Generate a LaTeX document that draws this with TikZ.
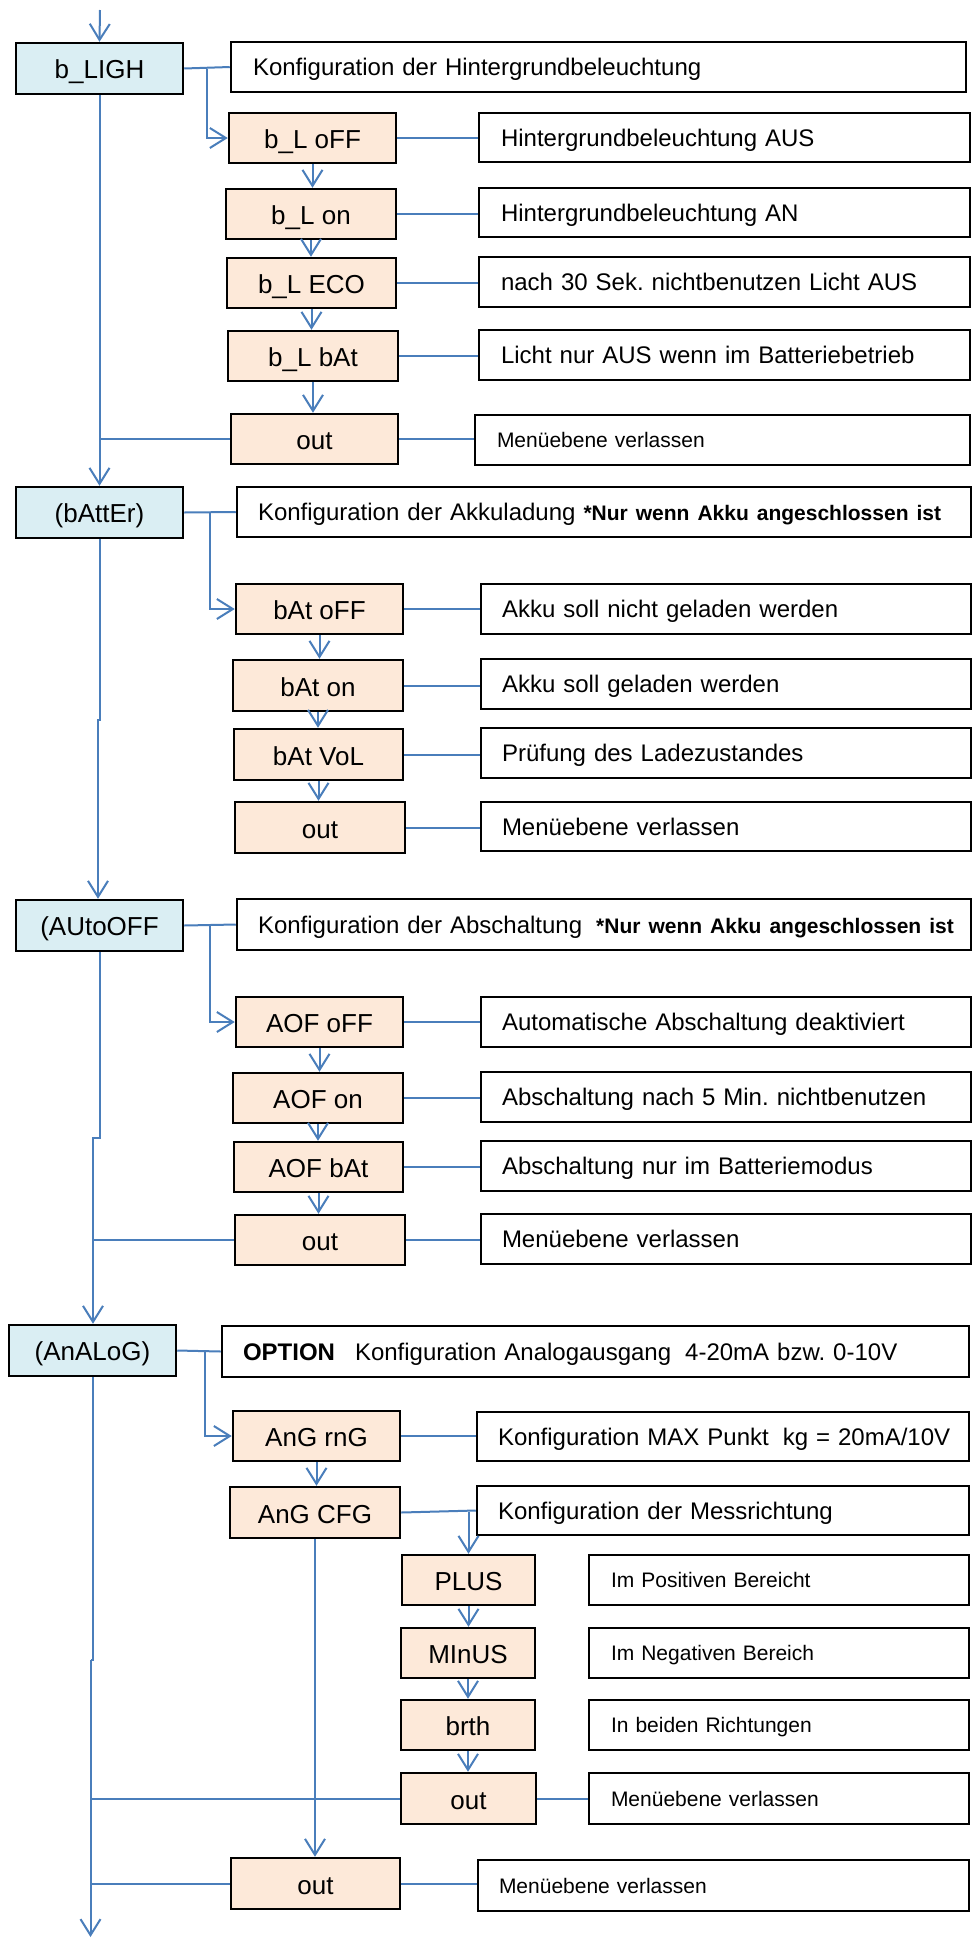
\documentclass[tikz,border=0pt]{standalone}
\usepackage{fontspec}
\setmainfont{Liberation Sans}
\usetikzlibrary{arrows.meta}
\definecolor{lblue}{RGB}{74,126,187}
\definecolor{mainfill}{RGB}{218,238,243}
\definecolor{subfill}{RGB}{253,233,217}
\newcommand\myfbig{\fontsize{26}{30}\selectfont}
\newcommand\myfmid{\fontsize{24}{28}\selectfont}
\newcommand\myfsmall{\fontsize{21}{25}\selectfont}
\newcommand\myfbold{\fontsize{21}{25}\selectfont\bfseries}
\newcommand\mkbox[7]{%
  \pgfmathsetmacro\dw{#5-#3}\pgfmathsetmacro\dh{#6-#4}%
  \node[#2, minimum width=\dw pt, minimum height=\dh pt] (#1) at ({(#3+#5)/2},{(#4+#6)/2}) {#7};}
\newcommand\dbox[8]{%
  \pgfmathsetmacro\dw{#5-#3}\pgfmathsetmacro\dh{#6-#4}%
  \pgfmathsetmacro\dsep{#7-#3}\pgfmathsetmacro\dtw{#5-#3-2*(#7-#3)}%
  \node[desc, #2, minimum width=\dw pt, minimum height=\dh pt, inner xsep=\dsep pt, inner ysep=0pt, text width=\dtw pt, align=left] (#1) at ({(#3+#5)/2},{(#4+#6)/2}) {\mbox{#8}};}
\tikzset{
  mainbox/.style={draw=black, line width=2.5pt, fill=mainfill, font=\myfbig, inner sep=0pt, text height=20.6pt, text depth=0pt},
  subbox/.style={draw=black, line width=2.5pt, fill=subfill, font=\myfbig, inner sep=0pt, text height=21.6pt, text depth=0pt},
  desc/.style={draw=black, line width=2.5pt, fill=white, text depth=0pt},
  dmid/.style={font=\myfmid, text height=17.2pt},
  dsmall/.style={font=\myfsmall, text height=15pt},
  conn/.style={draw=lblue, line width=2pt},
  arr/.style={conn, -{Straight Barb[length=16pt,width=20pt]}}
}
\begin{document}
\frenchspacing
\begin{tikzpicture}[x=1pt,y=-1pt]
\useasboundingbox[fill=white] (0,0) rectangle (972,1939);

% ---------- main boxes ----------
\mkbox{ligh}{mainbox}{16}{43}{183}{94}{b\_LIGH}
\mkbox{batt}{mainbox}{16}{487}{183}{538}{(bAttEr)}
\mkbox{auto}{mainbox}{16}{900}{183}{951}{(AUtoOFF}
\mkbox{anal}{mainbox}{9}{1325}{176}{1376}{(AnALoG)}

% ---------- group 1 ----------
\dbox{d0}{dmid}{231}{42}{966}{92}{253}{Konfiguration der Hintergrundbeleuchtung}
\mkbox{bLoff}{subbox}{229}{113}{396}{163}{b\_L oFF}
\mkbox{bLon}{subbox}{226}{189}{396}{239}{b\_L on}
\mkbox{bLeco}{subbox}{227}{258}{396}{308}{b\_L ECO}
\mkbox{bLbat}{subbox}{228}{331}{398}{381}{b\_L bAt}
\mkbox{outA}{subbox}{231}{414}{398}{464}{out}
\dbox{dA1}{dmid}{479}{113}{970}{162}{501}{Hintergrundbeleuchtung AUS}
\dbox{dA2}{dmid}{479}{188}{970}{237}{501}{Hintergrundbeleuchtung AN}
\dbox{dA3}{dmid}{479}{257}{970}{307}{501}{nach 30 Sek. nichtbenutzen Licht AUS}
\dbox{dA4}{dmid}{479}{330}{970}{380}{501}{Licht nur AUS wenn im Batteriebetrieb}
\dbox{dA5}{dsmall}{475}{415}{970}{465}{497}{Menüebene verlassen}

% ---------- group 2 ----------
\dbox{d1}{dmid}{237}{487}{971}{537}{258}{Konfiguration der Akkuladung {\myfbold *Nur wenn Akku angeschlossen ist}}
\mkbox{bAoff}{subbox}{236}{584}{403}{634}{bAt oFF}
\mkbox{bAon}{subbox}{233}{660}{403}{711}{bAt on}
\mkbox{bAvol}{subbox}{234}{729}{403}{780}{bAt VoL}
\mkbox{outB}{subbox}{235}{802}{405}{853}{out}
\dbox{dB1}{dmid}{481}{584}{971}{634}{502}{Akku soll nicht geladen werden}
\dbox{dB2}{dmid}{481}{659}{971}{709}{502}{Akku soll geladen werden}
\dbox{dB3}{dmid}{481}{728}{971}{778}{502}{Prüfung des Ladezustandes}
\dbox{dB4}{dmid}{481}{802}{971}{851}{502}{Menüebene verlassen}

% ---------- group 3 ----------
\dbox{d2}{dmid}{237}{899}{971}{950}{258}{Konfiguration der Abschaltung\hspace{14pt}{\myfbold *Nur wenn Akku angeschlossen ist}}
\mkbox{aoff}{subbox}{236}{997}{403}{1047}{AOF oFF}
\mkbox{aon}{subbox}{233}{1073}{403}{1123}{AOF on}
\mkbox{abat}{subbox}{234}{1142}{403}{1192}{AOF bAt}
\mkbox{outC}{subbox}{235}{1215}{405}{1265}{out}
\dbox{dC1}{dmid}{481}{997}{971}{1047}{502}{Automatische Abschaltung deaktiviert}
\dbox{dC2}{dmid}{481}{1072}{971}{1122}{502}{Abschaltung nach 5 Min. nichtbenutzen}
\dbox{dC3}{dmid}{481}{1141}{971}{1191}{502}{Abschaltung nur im Batteriemodus}
\dbox{dC4}{dmid}{481}{1214}{971}{1264}{502}{Menüebene verlassen}

% ---------- group 4 ----------
\dbox{d3}{dmid}{222}{1326}{969}{1377}{243}{\textbf{OPTION}\hspace{20pt}Konfiguration Analogausgang\hspace{14pt}4-20mA bzw. 0-10V}
\mkbox{rng}{subbox}{233}{1411}{400}{1461}{AnG rnG}
\mkbox{cfg}{subbox}{230}{1487}{400}{1538}{AnG CFG}
\dbox{dD1}{dmid}{477}{1412}{969}{1461}{498}{Konfiguration MAX Punkt\hspace{14pt}kg = 20mA/10V}
\dbox{dD2}{dmid}{477}{1486}{969}{1535}{498}{Konfiguration der Messrichtung}
\mkbox{plus}{subbox}{402}{1555}{535}{1605}{PLUS}
\mkbox{minus}{subbox}{401}{1628}{535}{1678}{MInUS}
\mkbox{brth}{subbox}{401}{1700}{535}{1750}{brth}
\mkbox{outD}{subbox}{401}{1773}{536}{1824}{out}
\dbox{dE1}{dsmall}{589}{1555}{969}{1605}{611}{Im Positiven Bereicht}
\dbox{dE2}{dsmall}{589}{1628}{969}{1678}{611}{Im Negativen Bereich}
\dbox{dE3}{dsmall}{589}{1700}{969}{1750}{611}{In beiden Richtungen}
\dbox{dE4}{dsmall}{589}{1773}{969}{1824}{611}{Menüebene verlassen}
\mkbox{outE}{subbox}{231}{1858}{400}{1909}{out}
\dbox{dE5}{dsmall}{478}{1860}{969}{1911}{499}{Menüebene verlassen}

% ---------- coordinates ----------
\coordinate (top) at (100,10);
\coordinate (bot) at (90.5,1937);
\coordinate (j1a) at (101,720);
\coordinate (j1b) at (98,720);
\coordinate (j2a) at (100,1138);
\coordinate (j2b) at (93,1138);
\coordinate (j3a) at (92.5,1660);
\coordinate (j3b) at (90.5,1660);
\coordinate (jn1) at (207,68.5);
\coordinate (jn2) at (210,512);
\coordinate (jn3) at (210,925);
\coordinate (jn4) at (205,1351);
\coordinate (jn5) at (468.5,1512);

% ---------- main line ----------
\draw[arr] (top) -- (ligh.north);
\draw[arr] (ligh.south) -- (ligh.south |- batt.north);
\draw[conn] (outA.west) -- (outA.west -| ligh.south);
\draw[arr] (batt.south) -- (batt.south |- j1a) -- (j1b) -- (j1b |- auto.north);
\draw[arr] (auto.south) -- (auto.south |- j2a) -- (j2b) -- (j2b |- anal.north);
\draw[conn] (outC.west) -- (outC.west -| j2b);
\draw[conn] (anal.south) -- (anal.south |- j3a) -- (j3b);
\draw[arr] (j3b) -- (bot);
\draw[conn] (outD.west) -- (outD.west -| j3b);
\draw[conn] (outE.west) -- (outE.west -| j3b);

% ---------- group connectors ----------
\draw[conn] (ligh.east) -- (d0.west);
\draw[arr] (jn1) |- (bLoff.west);
\draw[conn] (batt.east) -- (d1.west);
\draw[arr] (jn2) |- (bAoff.west);
\draw[conn] (auto.east) -- (d2.west);
\draw[arr] (jn3) |- (aoff.west);
\draw[conn] (anal.east) -- (d3.west);
\draw[arr] (jn4) |- (rng.west);
\draw[conn] (cfg.east) -- (dD2.west);
\draw[arr] (jn5) -- (plus.north);
\draw[arr] (cfg.south) -- (cfg.south |- outE.north);

% ---------- step arrows ----------
\foreach \a/\b in {bLoff/bLon,bLon/bLeco,bLeco/bLbat,bLbat/outA,
                   bAoff/bAon,bAon/bAvol,bAvol/outB,
                   aoff/aon,aon/abat,abat/outC,
                   rng/cfg,plus/minus,minus/brth,brth/outD}
  \draw[arr] (\a.south) -- (\a.south |- \b.north);

% ---------- to descriptions ----------
\foreach \a/\b in {bLoff/dA1,bLon/dA2,bLeco/dA3,bLbat/dA4,outA/dA5,
                   bAoff/dB1,bAon/dB2,bAvol/dB3,outB/dB4,
                   aoff/dC1,aon/dC2,abat/dC3,outC/dC4,
                   rng/dD1,outD/dE4,outE/dE5}
  \draw[conn] (\a.east) -- (\a.east -| \b.west);
\end{tikzpicture}
\end{document}
